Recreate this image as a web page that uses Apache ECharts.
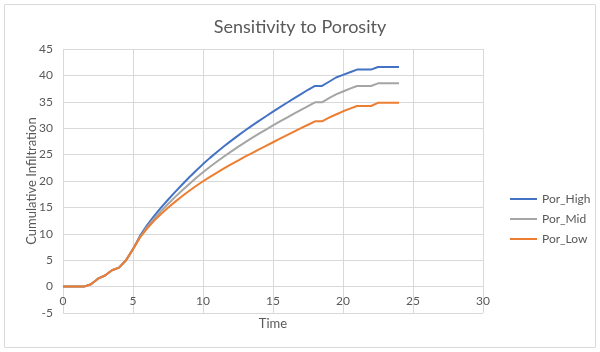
<!DOCTYPE html>
<html>
<head>
<meta charset="utf-8">
<script src="https://cdn.jsdelivr.net/npm/echarts@6/dist/echarts.min.js"></script>
<style>html,body{margin:0;padding:0;background:#fff;}#c{width:600px;height:352px;}</style>
</head>
<body>
<div id="c"></div>
<script>
var time = [0,0.5,1,1.5,2,2.5,3,3.5,4,4.5,5,5.5,6,6.5,7,7.5,8,8.5,9,9.5,10,10.5,11,11.5,12,12.5,13,13.5,14,14.5,15,15.5,16,16.5,17,17.5,18,18.5,19,19.5,20,20.5,21,21.5,22,22.5,23,23.5,24];
var porHigh = [0,0,0,0,0.45,1.5,2.1,3.1,3.6,5.0,7.1,9.6,11.6,13.35,14.95,16.45,17.9,19.3,20.65,21.95,23.2,24.38,25.5,26.57,27.6,28.6,29.56,30.49,31.39,32.27,33.13,33.98,34.82,35.65,36.47,37.28,38.0,38.0,38.8,39.6,40.1,40.6,41.1,41.1,41.1,41.6,41.6,41.6,41.6];
var porMid = [0,0,0,0,0.45,1.5,2.1,3.1,3.6,5.0,7.1,9.4,11.25,12.85,14.3,15.65,16.95,18.2,19.4,20.55,21.65,22.69,23.69,24.65,25.57,26.46,27.32,28.15,28.96,29.75,30.52,31.27,32.01,32.74,33.46,34.17,34.9,34.9,35.7,36.4,36.95,37.5,38.0,38.0,38.0,38.5,38.5,38.5,38.5];
var porLow = [0,0,0,0,0.45,1.5,2.1,3.1,3.6,5.0,7.1,9.3,11.0,12.45,13.75,14.95,16.05,17.1,18.1,19.05,19.95,20.79,21.6,22.38,23.14,23.88,24.6,25.3,25.99,26.67,27.34,28.01,28.68,29.34,30.0,30.65,31.3,31.3,32.0,32.6,33.2,33.7,34.2,34.2,34.2,34.8,34.8,34.8,34.8];
var seriesNames = ['Por_High','Por_Mid','Por_Low'];
var xAxisName = 'Time';
var yAxisName = 'Cumulative Infiltration';

function pairs(ys){ return time.map(function(t,i){return [t, ys[i]];}); }
var FONT = 'Lato, "Open Sans", sans-serif';
var TXT = '#595959';
var GRIDC = '#d9d9d9';
var GRID_H = 352 - 49 - 39;
var chart = echarts.init(document.getElementById('c'));
chart.setOption({
  animation:false,
  backgroundColor:'#fff',
  title:{text:'Sensitivity to Porosity', left:'center', top:13,
    textStyle:{fontFamily:FONT, fontSize:18, fontWeight:'normal', color:TXT}},
  legend:{orient:'vertical', left:505, top:188, itemGap:8, itemWidth:27, itemHeight:2,
    icon:'rect',
    textStyle:{fontFamily:FONT, fontSize:12, color:TXT}, data:seriesNames},
  grid:{left:63, right:117, top:49, bottom:39, outerBoundsMode:'none', containLabel:false},
  xAxis:{type:'value', min:0, max:30, interval:5,
    offset:-GRID_H / 10,
    axisLine:{onZero:false, lineStyle:{color:GRIDC}},
    axisTick:{show:false},
    axisLabel:{fontFamily:FONT, fontSize:12, color:TXT, margin:9, hideOverlap:false},
    splitLine:{show:true, lineStyle:{color:GRIDC}}},
  yAxis:{type:'value', min:-5, max:45, interval:5,
    name:yAxisName, nameLocation:'middle', nameGap:25, nameMoveOverlap:false,
    nameTextStyle:{fontFamily:FONT, fontSize:13, color:TXT},
    axisLine:{show:false},
    axisTick:{show:false},
    axisLabel:{fontFamily:FONT, fontSize:12, color:TXT, margin:10},
    splitLine:{show:true, lineStyle:{color:GRIDC}}},
  series:[
    {name:seriesNames[0], type:'line', data:pairs(porHigh), showSymbol:false, lineStyle:{width:2, color:'#4472C4'}, itemStyle:{color:'#4472C4'}},
    {name:seriesNames[1], type:'line', data:pairs(porMid), showSymbol:false, lineStyle:{width:2, color:'#A5A5A5'}, itemStyle:{color:'#A5A5A5'}},
    {name:seriesNames[2], type:'line', data:pairs(porLow), showSymbol:false, lineStyle:{width:2, color:'#ED7D31'}, itemStyle:{color:'#ED7D31'}}
  ],
  graphic:[
    {type:'rect', shape:{x:4.5, y:4.5, width:591, height:343}, style:{fill:null, stroke:'#d9d9d9', lineWidth:1}, silent:true},
    {type:'text', x:273, y:324, style:{text:xAxisName, fontFamily:FONT, fontSize:13, fill:TXT, align:'center', verticalAlign:'middle'}, silent:true}
  ]
});
</script>
</body>
</html>
